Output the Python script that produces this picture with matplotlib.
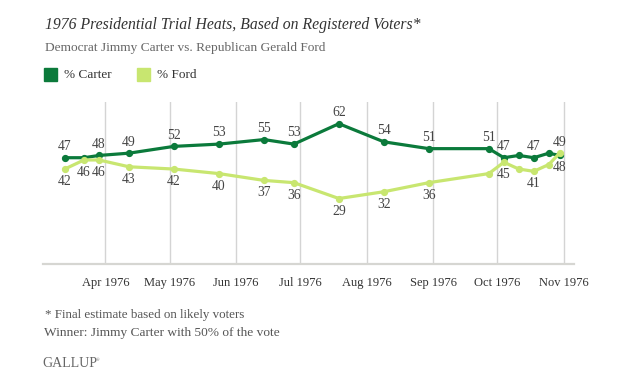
import matplotlib
matplotlib.use('Agg')
import matplotlib.pyplot as plt
import matplotlib.patches as patches
import numpy as np

# poll end dates and results (percent)
poll_dates = ['1976-03-13', '1976-03-22', '1976-03-29', '1976-04-12', '1976-05-03',
              '1976-05-24', '1976-06-14', '1976-06-28', '1976-07-19', '1976-08-09',
              '1976-08-30', '1976-09-27', '1976-10-04', '1976-10-11', '1976-10-18',
              '1976-10-25', '1976-10-30']
carter = [47, 47, 48, 49, 52, 53, 55, 53, 62, 54, 51, 51, 47, 48, 47, 49, 48]
ford = [42, 46, 46, 43, 42, 40, 37, 36, 29, 32, 36, 40, 45, 42, 41, 44, 49]
# which values get a data label in the chart
carter_labeled = [1, 0, 1, 1, 1, 1, 1, 1, 1, 1, 1, 1, 1, 0, 1, 0, 1]
ford_labeled = [1, 1, 1, 1, 1, 1, 1, 1, 1, 1, 1, 0, 1, 0, 1, 0, 1]

month_ticks = ['1976-04-01', '1976-05-01', '1976-06-01', '1976-07-01',
               '1976-08-01', '1976-09-01', '1976-10-01', '1976-11-01']
month_labels = ['Apr 1976', 'May 1976', 'Jun 1976', 'Jul 1976',
                'Aug 1976', 'Sep 1976', 'Oct 1976', 'Nov 1976']

CARTER_COL = '#0b7a3b'
FORD_COL = '#c8e670'
SERIF = ['Liberation Serif', 'DejaVu Serif']

W, H = 629, 378
def fx(px):
    return px / W
def fy(py):
    return 1 - py / H

fig = plt.figure(figsize=(W / 100, H / 100), dpi=100)
ax = fig.add_axes([fx(43.3), fy(264.3), fx(574) - fx(43.3), fy(101.7) - fy(264.3)])

dates = np.array(poll_dates, dtype='datetime64[D]')
ax.plot(dates, carter, color=CARTER_COL, lw=2.3, marker='o', ms=4.2, zorder=3)
ax.plot(dates, ford, color=FORD_COL, lw=2.3, marker='o', ms=4.2, zorder=4)

for d, c, f, cl, fl in zip(dates, carter, ford, carter_labeled, ford_labeled):
    # higher value label goes above the point, lower one below
    for v, show, up in ((c, cl, c >= f), (f, fl, f > c)):
        if not show:
            continue
        ax.annotate(str(v), (d, v), xytext=(0, 8 if up else -9), textcoords='offset points',
                    ha='center', va='center', fontsize=9.8, color='#444444',
                    family=SERIF, zorder=5)

ax.set_xlim(np.datetime64('1976-03-03'), np.datetime64('1976-11-05T18'))
ax.set_ylim(0, 71.7)
ax.set_xticks(np.array(month_ticks, dtype='datetime64[D]'))
ax.set_xticklabels(month_labels, family=SERIF, fontsize=9, color='#333333')
ax.tick_params(axis='x', length=0, pad=9)
ax.set_yticks([])
ax.grid(axis='x', color='#d4d4d4', lw=1)
ax.set_axisbelow(True)
for s in ['left', 'right', 'top']:
    ax.spines[s].set_visible(False)
ax.spines['bottom'].set_color('#d6d6d2')
ax.spines['bottom'].set_linewidth(1.6)

fig.text(fx(45), fy(25), '1976 Presidential Trial Heats, Based on Registered Voters*',
         family=SERIF, style='italic', fontsize=11.3, color='#333333', va='center')
fig.text(fx(45), fy(48), 'Democrat Jimmy Carter vs. Republican Gerald Ford',
         family=SERIF, fontsize=9.6, color='#666666', va='center')

fig.patches.append(patches.Rectangle((fx(44), fy(81)), fx(13), 13 / H,
                                     transform=fig.transFigure, color=CARTER_COL))
fig.text(fx(64), fy(74.5), '% Carter', family=SERIF, fontsize=9.5, color='#333333', va='center')
fig.patches.append(patches.Rectangle((fx(137), fy(81)), fx(13), 13 / H,
                                     transform=fig.transFigure, color=FORD_COL))
fig.text(fx(157), fy(74.5), '% Ford', family=SERIF, fontsize=9.5, color='#333333', va='center')

fig.text(fx(45), fy(315), '* Final estimate based on likely voters',
         family=SERIF, fontsize=9.4, color='#555555', va='center')
fig.text(fx(44), fy(332.7), 'Winner: Jimmy Carter with 50% of the vote',
         family=SERIF, fontsize=9.6, color='#555555', va='center')
fig.text(fx(42), fy(363.3), 'GALLUP', family=SERIF, fontsize=10, color='#666666', va='center')
fig.text(fx(96), fy(360), '\u00ae', family=SERIF, fontsize=3.5, color='#666666', va='center')

fig.savefig('out.png', dpi=100, facecolor='white')
